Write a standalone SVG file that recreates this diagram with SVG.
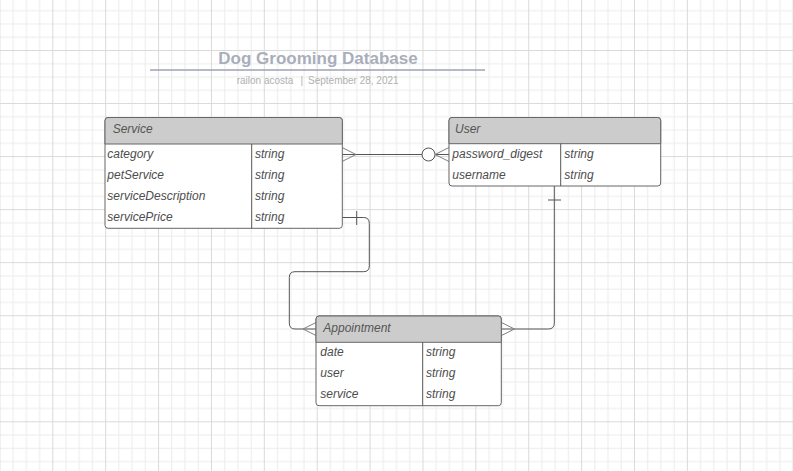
<svg xmlns="http://www.w3.org/2000/svg" width="793" height="471" viewBox="0 0 793 471">
<style>
.box{fill:#ffffff;stroke:#666666;stroke-width:1}
.hdr{fill:#cccccc;stroke:#666666;stroke-width:1}
.sep{stroke:#555555;stroke-width:1;fill:none}
.t{font-family:"Liberation Sans",Arial,sans-serif;font-size:12px;font-style:italic;fill:#4d4d4d}
.h{font-family:"Liberation Sans",Arial,sans-serif;font-size:12px;font-style:italic;fill:#555555}
.ln{stroke:#555555;stroke-width:1;fill:none}
.cf{stroke:#808080;stroke-width:1;fill:none}
.sub{font-family:"Liberation Sans",Arial,sans-serif;font-size:10px;fill:#b0b0b0}
</style>
<defs>
<pattern id="grid" patternUnits="userSpaceOnUse" x="-0.58" y="-3.04" width="52.88" height="53.04">
<rect x="13.22" y="0" width="1" height="53.04" fill="#ececec"/>
<rect x="26.44" y="0" width="1" height="53.04" fill="#ececec"/>
<rect x="39.66" y="0" width="1" height="53.04" fill="#ececec"/>
<rect x="0" y="13.26" width="52.88" height="1" fill="#ececec"/>
<rect x="0" y="26.52" width="52.88" height="1" fill="#ececec"/>
<rect x="0" y="39.78" width="52.88" height="1" fill="#ececec"/>
<rect x="0" y="0" width="1" height="53.04" fill="#dadada"/>
<rect x="0" y="0" width="52.88" height="1" fill="#dadada"/>
</pattern>
</defs>
<rect width="793" height="471" fill="#ffffff"/>
<rect width="793" height="471" fill="url(#grid)"/>

<g id="title">
<text x="318" y="64" text-anchor="middle" font-family="'Liberation Sans',Arial,sans-serif" font-size="17" font-weight="bold" fill="#a9aebb">Dog Grooming Database</text>
<line x1="150" y1="70" x2="485" y2="70" stroke="#9ea3b3" stroke-width="1.5"/>
<text class="sub" x="236.7" y="84">railon acosta</text>
<text class="sub" x="301.7" y="84" text-anchor="middle">|</text>
<text class="sub" x="308" y="84">September 28, 2021</text>
</g>

<g id="connectors">
<line class="ln" x1="342" y1="154.5" x2="449" y2="154.5"/>
<path class="cf" d="M342,147.5 L356,154.5 L342,161.5"/>
<circle cx="428.5" cy="154.5" r="6.5" fill="#ffffff" stroke="#555555" stroke-width="1"/>
<path class="cf" d="M449,147.5 L435,154.5 L449,161.5"/>

<path class="ln" d="M554.3,186 V323 Q554.3,329 548.3,329 H501.5"/>
<line class="ln" x1="548" y1="200" x2="561" y2="200"/>
<path class="cf" d="M501.5,322.5 L514.5,329 L501.5,335.5"/>

<path class="ln" d="M342,217.5 H363.5 Q369.3,217.5 369.3,223.3 V266 Q369.3,271.7 363.5,271.7 H295 Q289.3,271.7 289.3,277.5 V323 Q289.3,329 295,329 H316"/>
<line class="ln" x1="356.7" y1="211" x2="356.7" y2="225"/>
<path class="cf" d="M316,322.5 L303,329 L316,335.5"/>
</g>

<g id="service">
<rect class="box" x="105" y="117.5" width="237.3" height="110.8" rx="3"/>
<path class="hdr" d="M108,117.5 H339.3 Q342.3,117.5 342.3,120.5 V144 H105 V120.5 Q105,117.5 108,117.5 Z"/>
<line class="sep" x1="251.7" y1="144" x2="251.7" y2="228.3"/>
<text class="h" x="112.7" y="133.3">Service</text>
<text class="t" x="107.3" y="157.5">category</text>
<text class="t" x="255" y="157.5">string</text>
<text class="t" x="107.3" y="178.5">petService</text>
<text class="t" x="255" y="178.5">string</text>
<text class="t" x="107.3" y="199.5">serviceDescription</text>
<text class="t" x="255" y="199.5">string</text>
<text class="t" x="107.3" y="220.5">servicePrice</text>
<text class="t" x="255" y="220.5">string</text>
</g>

<g id="user">
<rect class="box" x="449" y="117.5" width="211.7" height="68.5" rx="3"/>
<path class="hdr" d="M452,117.5 H657.7 Q660.7,117.5 660.7,120.5 V143.7 H449 V120.5 Q449,117.5 452,117.5 Z"/>
<line class="sep" x1="560.7" y1="143.7" x2="560.7" y2="186"/>
<text class="h" x="455" y="133.3">User</text>
<text class="t" x="452.3" y="157.5">password_digest</text>
<text class="t" x="564.3" y="157.5">string</text>
<text class="t" x="452.3" y="178.5">username</text>
<text class="t" x="564.3" y="178.5">string</text>
</g>

<g id="appointment">
<rect class="box" x="316" y="316" width="185.3" height="89.7" rx="3"/>
<path class="hdr" d="M319,316 H498.3 Q501.3,316 501.3,319 V342.3 H316 V319 Q316,316 319,316 Z"/>
<line class="sep" x1="422.7" y1="342.3" x2="422.7" y2="405.7"/>
<text class="h" x="323.3" y="331.7">Appointment</text>
<text class="t" x="320.3" y="355.7">date</text>
<text class="t" x="426" y="355.7">string</text>
<text class="t" x="320.3" y="376.7">user</text>
<text class="t" x="426" y="376.7">string</text>
<text class="t" x="320.3" y="397.7">service</text>
<text class="t" x="426" y="397.7">string</text>
</g>
</svg>
